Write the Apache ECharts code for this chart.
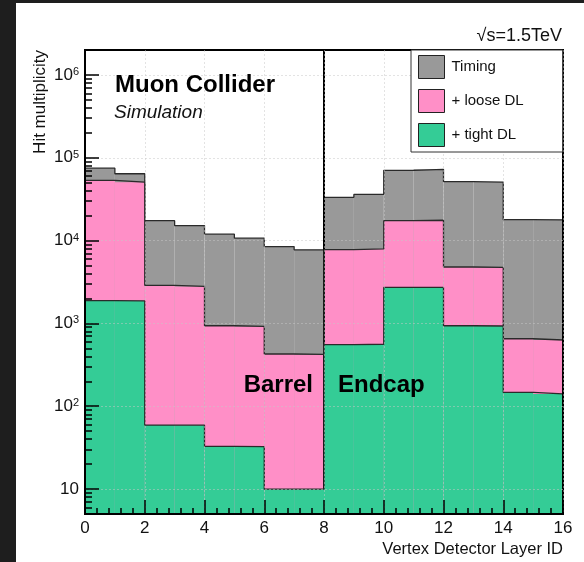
<!DOCTYPE html>
<html><head><meta charset="utf-8">
<script src="https://cdn.jsdelivr.net/npm/echarts@6/dist/echarts.min.js"></script>
<style>html,body{margin:0;padding:0;background:#fff}#c{width:584px;height:562px}</style>
</head><body><div id="c"></div>
<script>
// ---- data ----
const binEdges = [0,1,2,3,4,5,6,7,8,9,10,11,12,13,14,15,16];
const timing  = [74900, 64100, 17400, 15200, 11950, 10700, 8470, 7730, 33300, 36100, 70500, 72500, 51400, 50800, 17900, 17800];
const looseDL = [53200, 50700, 2880, 2800, 937, 920, 427, 422, 7760, 7920, 17400, 17600, 4800, 4750, 653, 631];
const tightDL = [1880, 1870, 59.3, 59, 32.7, 32.5, 10, 10, 553, 560, 2720, 2720, 937, 930, 147, 141];
const seriesNames = ['Timing', '+ loose DL', '+ tight DL'];
const xTickLabels = [0,2,4,6,8,10,12,14,16];
const yMajorTicks = [10, 100, 1000, 10000, 100000, 1000000];
const yMinorMultipliers = [2,3,4,5,6,7,8,9];
const yDecades = [1, 10, 100, 1000, 10000, 100000, 1000000];
const barrelEndcapBoundary = 8;
const yMin = 5, yMax = 2000000;

const yMinorTicks = [];
yDecades.forEach(d => yMinorMultipliers.forEach(m => { const v = d*m; if (v >= yMin && v <= yMax) yMinorTicks.push(v); }));

const FONT = '"Liberation Sans", Arial, Helvetica, sans-serif';
const colors = ['#999999', '#ff8fc7', '#34cc96'];
const outline = '#2a2a2a';
const gridColor = 'rgba(200,200,200,0.5)';

function barData(vals){ return vals.map((v,i)=>[(binEdges[i]+binEdges[i+1])/2, v]); }
function stepData(vals){ return binEdges.map((x,i)=>[x, vals[Math.min(i, vals.length-1)]]); }

const hists = [timing, looseDL, tightDL];
const series = [];
hists.forEach((vals, k) => {
  series.push({
    name: seriesNames[k], type: 'bar', data: barData(vals),
    barWidth: '100%', barGap: '-100%', z: 2 + 2*k, silent: true,
    itemStyle: { color: colors[k], borderWidth: 0 }, animation: false
  });
  const line = {
    name: 'outline' + k, type: 'line', step: 'end', data: stepData(vals),
    symbol: 'none', z: 3 + 2*k, silent: true, animation: false,
    lineStyle: { color: outline, width: 1.3 }
  };
  if (k === 2) {
    line.markLine = {
      silent: true, symbol: ['none','none'], label: { show: false },
      lineStyle: { color: '#000', width: 2, type: 'solid' },
      data: [{ xAxis: barrelEndcapBoundary }], animation: false
    };
  }
  series.push(line);
});

const chart = echarts.init(document.getElementById('c'));
chart.setOption({
  backgroundColor: '#ffffff',
  animation: false,
  grid: { left: 85, top: 50, width: 478, height: 464, show: true, borderColor: '#000', borderWidth: 2, z: 10, backgroundColor: 'transparent' },
  xAxis: {
    type: 'value', min: 0, max: 16, interval: 2, z: 10,
    axisLine: { show: true, lineStyle: { color: '#000', width: 2 } },
    axisTick: { show: true, inside: true, length: 14, lineStyle: { color: '#000', width: 1.5 } },
    minorTick: { show: true, splitNumber: 5, length: 6, lineStyle: { color: '#000', width: 1.5 } },
    axisLabel: { fontSize: 17, color: '#111', fontFamily: FONT, margin: 6,
      customValues: xTickLabels },
    splitLine: { show: true, lineStyle: { color: gridColor, type: [2,2], width: 1 } }
  },
  yAxis: [{
    type: 'log', logBase: 10, min: yMin, max: yMax, position: 'left', z: 10,
    axisLine: { show: true, lineStyle: { color: '#000', width: 2 } },
    axisTick: { show: true, inside: true, length: 14, customValues: yMajorTicks, lineStyle: { color: '#000', width: 1.5 } },
    axisLabel: {
      customValues: yMajorTicks, margin: 6, fontFamily: FONT, color: '#111',
      formatter: v => { const e = Math.round(Math.log10(v)); return e === 1 ? '{b|10}' : '{b|10}{s|' + e + '}'; },
      rich: { b: { fontSize: 17, fontFamily: FONT, color: '#111' }, s: { fontSize: 11, fontFamily: FONT, color: '#111', verticalAlign: 'top', padding: [0,0,6,0] } }
    },
    splitLine: { show: true, lineStyle: { color: gridColor, type: [2,2], width: 1 } }
  }, {
    type: 'log', logBase: 10, min: yMin, max: yMax, position: 'left', offset: 0, z: 10,
    axisLine: { show: false },
    axisTick: { show: true, inside: true, length: 7, customValues: yMinorTicks, lineStyle: { color: '#000', width: 1.5 } },
    axisLabel: { show: false },
    splitLine: { show: false }
  }],
  legend: {
    orient: 'vertical', left: 411, top: 50, padding: [5, 39, 5, 7],
    itemWidth: 26, itemHeight: 23, itemGap: 10, icon: 'rect', z: 12,
    borderColor: '#333', borderWidth: 1, backgroundColor: '#fff',
    itemStyle: { borderColor: '#222', borderWidth: 1 },
    textStyle: { fontSize: 15, fontFamily: FONT, color: '#111', padding: [0, 0, 0, 2] },
    data: seriesNames, selectedMode: false
  },
  graphic: [
    { type: 'rect', shape: { x: 0, y: 0, width: 16, height: 562 }, style: { fill: '#1e1e1e' }, z: 100, silent: true },
    { type: 'rect', shape: { x: 0, y: 0, width: 584, height: 3 }, style: { fill: '#1e1e1e' }, z: 100, silent: true },
    { type: 'text', x: 115, y: 85, z: 50, style: { text: 'Muon Collider', fontSize: 24, fontWeight: 'bold', fontFamily: FONT, fill: '#000', align: 'left', verticalAlign: 'middle' } },
    { type: 'text', x: 114, y: 112.5, z: 50, style: { text: 'Simulation', fontSize: 19, fontStyle: 'italic', fontFamily: FONT, fill: '#111', align: 'left', verticalAlign: 'middle' } },
    { type: 'text', x: 562, y: 36, z: 50, style: { text: '\u221As=1.5TeV', fontSize: 18, fontFamily: FONT, fill: '#111', align: 'right', verticalAlign: 'middle' } },
    { type: 'text', x: 313, y: 385, z: 50, style: { text: 'Barrel', fontSize: 24, fontWeight: 'bold', fontFamily: FONT, fill: '#000', align: 'right', verticalAlign: 'middle' } },
    { type: 'text', x: 338, y: 385, z: 50, style: { text: 'Endcap', fontSize: 24, fontWeight: 'bold', fontFamily: FONT, fill: '#000', align: 'left', verticalAlign: 'middle' } },
    { type: 'text', x: 40, y: 50, rotation: Math.PI/2, z: 50, style: { text: 'Hit multiplicity', fontSize: 17, fontFamily: FONT, fill: '#111', align: 'right', verticalAlign: 'middle' } },
    { type: 'text', x: 563, y: 549, z: 50, style: { text: 'Vertex Detector Layer ID', fontSize: 16.5, fontFamily: FONT, fill: '#111', align: 'right', verticalAlign: 'middle' } }
  ],
  series: series
});
</script></body></html>
